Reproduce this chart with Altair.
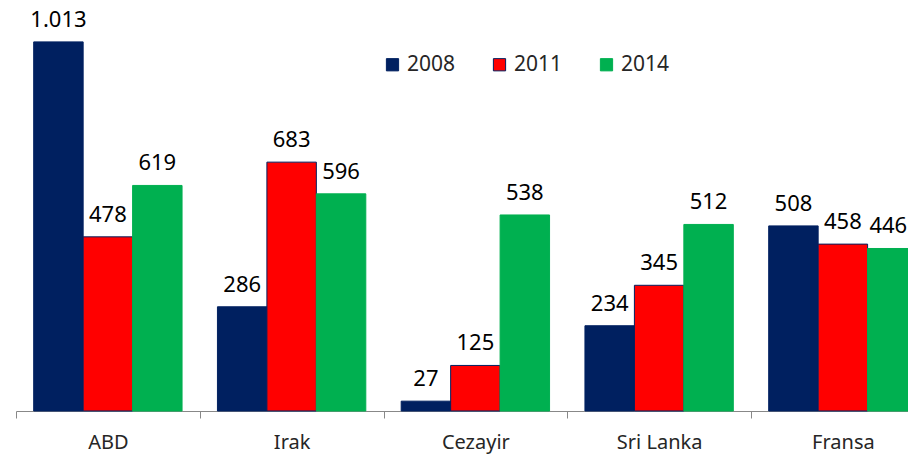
import altair as alt
import pandas as pd

countries = ["ABD", "Irak", "Cezayir", "Sri Lanka", "Fransa"]
years = ["2008", "2011", "2014"]
v2008 = [1013, 286, 27, 234, 508]
v2011 = [478, 683, 125, 345, 458]
v2014 = [619, 596, 538, 512, 446]

fill_colors = ["#002060", "#FF0000", "#00B050"]
stroke_colors = ["#002060", "#002060", "#00B050"]

rows = []
for yr, vals in zip(years, [v2008, v2011, v2014]):
    for c, v in zip(countries, vals):
        rows.append({"country": c, "year": yr, "value": v,
                     "label": f"{v:,}".replace(",", ".")})
df = pd.DataFrame(rows)

FONT = "Noto Sans"

xenc = alt.X("country:N", sort=countries, title=None,
             scale=alt.Scale(range=[0, 918.75], paddingInner=0, paddingOuter=0),
             axis=alt.Axis(labelAngle=0, labelFont=FONT, labelFontSize=20,
                           labelColor="#262626", labelPadding=14, tickSize=7,
                           tickBand="extent", domainColor="#888888",
                           tickColor="#888888", labelBaseline="top"))
xoff = alt.XOffset("year:N", sort=years,
                   scale=alt.Scale(paddingInner=0, paddingOuter=0.358))
yenc = alt.Y("value:Q", scale=alt.Scale(domain=[0, 1106], nice=False, zero=True), axis=None)

bars = alt.Chart(df).mark_bar(strokeWidth=1).encode(
    x=xenc, xOffset=xoff, y=yenc,
    fill=alt.Fill("year:N", sort=years,
                  scale=alt.Scale(domain=years, range=fill_colors),
                  legend=alt.Legend(title=None, orient="none", legendX=366, legendY=46,
                                    direction="horizontal", columns=3,
                                    symbolType="square", symbolSize=150,
                                    labelFont=FONT, labelFontSize=21,
                                    labelColor="#262626", labelOffset=4,
                                    columnPadding=33, padding=0,
                                    symbolStrokeWidth=1)),
    stroke=alt.Stroke("year:N", sort=years,
                      scale=alt.Scale(domain=years, range=stroke_colors),
                      legend=None),
)

is_last = (alt.datum.country == countries[-1]) & (alt.datum.year == years[-1])

text = alt.Chart(df).transform_filter(~is_last).mark_text(
    font=FONT, fontSize=22, color="#000000", baseline="alphabetic", dy=-15
).encode(
    x=alt.X("country:N", sort=countries),
    xOffset=alt.XOffset("year:N", sort=years),
    y=alt.Y("value:Q"),
    text="label:N",
)

text_last = alt.Chart(df).transform_filter(is_last).mark_text(
    font=FONT, fontSize=22, color="#000000", baseline="alphabetic", dy=-15, dx=-4
).encode(
    x=alt.X("country:N", sort=countries),
    xOffset=alt.XOffset("year:N", sort=years),
    y=alt.Y("value:Q"),
    text="label:N",
)

chart = alt.layer(bars, text, text_last).properties(
    width=892, height=403,
    autosize=alt.AutoSizeParams(type="none"),
    padding={"left": 8, "top": 0, "right": 0, "bottom": 43},
).configure_view(stroke=None)

chart.save("out.html", embed_options={"renderer": "svg", "actions": False})
